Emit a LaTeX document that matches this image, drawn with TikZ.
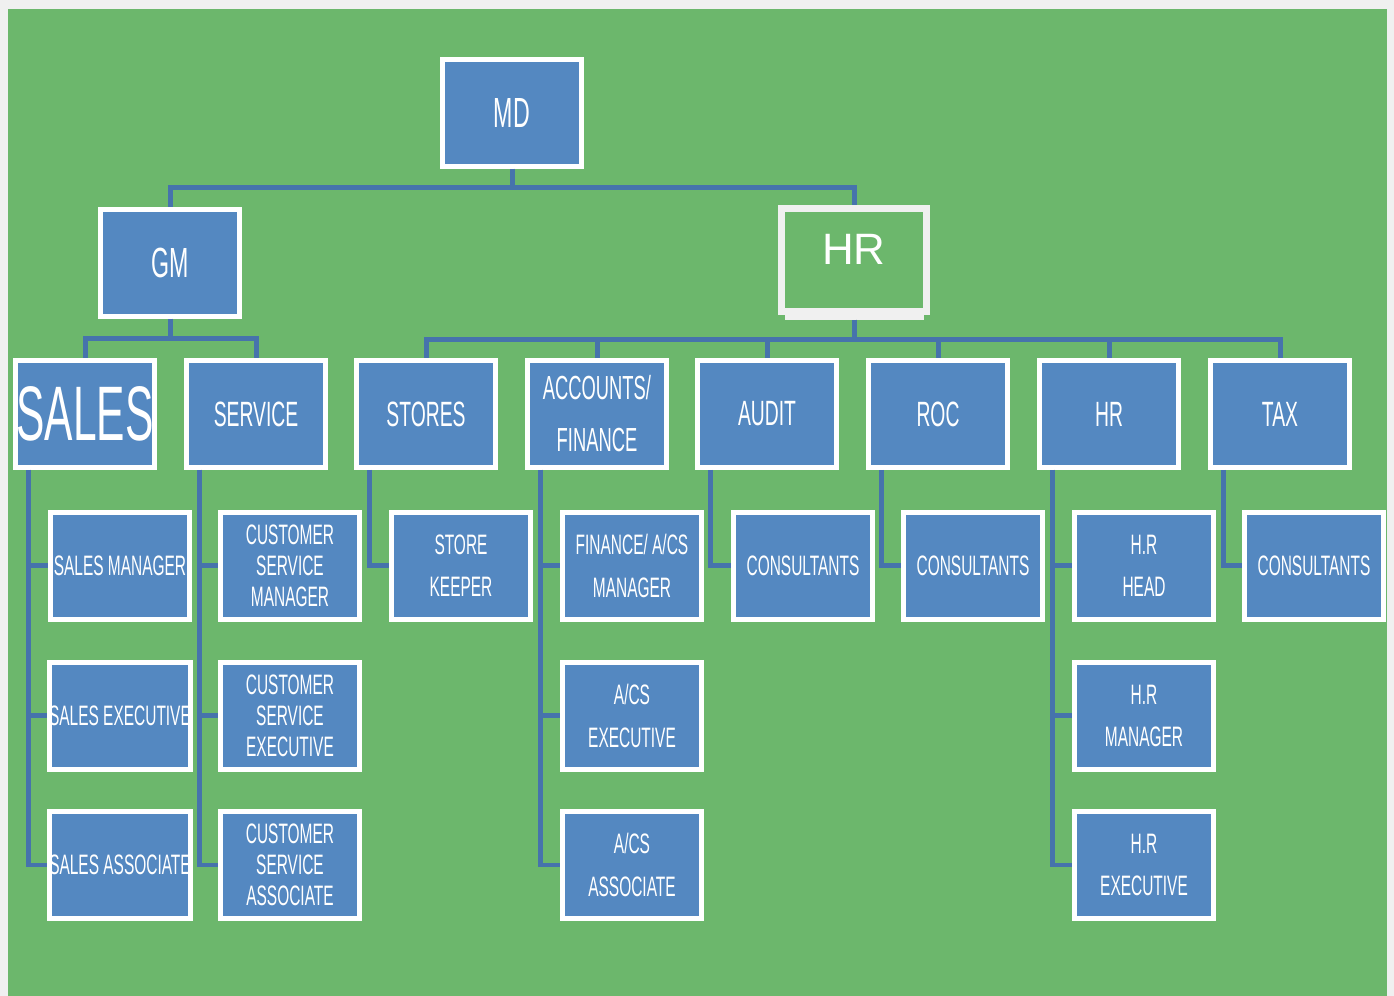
\documentclass[tikz,border=0pt]{standalone}
\usepackage{fontspec}
\newfontfamily\orgfont{Liberation Sans}[FakeStretch=0.55]
\newfontfamily\arialfont{Liberation Sans}
\definecolor{bggreen}{RGB}{108,183,108}
\definecolor{boxblue}{RGB}{84,136,193}
\definecolor{linkblue}{RGB}{70,115,172}
\definecolor{framegray}{RGB}{240,240,240}

\begin{document}
\begin{tikzpicture}[x=0.02cm, y=-0.02cm,
	post/.style={draw=white, line width=0.1cm, fill=boxblue, text=white,
		minimum width=2.8cm, minimum height=2.14cm, inner sep=0pt, align=center,
		font=\orgfont\fontsize{16}{17.6}\selectfont},
	twoline/.style={font=\orgfont\fontsize{16}{24}\selectfont},
	topframe/.style={draw=framegray, line width=0.14cm, fill=bggreen, text=white,
		minimum width=2.9cm, minimum height=2.06cm, inner sep=0pt,
		font=\arialfont\fontsize{25}{30}\selectfont},
	link/.style={draw=linkblue, line width=0.1cm}]

	\fill[framegray] (0,0) rectangle (1394,996);
	\fill[bggreen] (8,9) rectangle (1387,996);

	% top
	\node[post, font=\orgfont\fontsize{24}{28}\selectfont] (md) at (512,113) {MD};
	\node[post, font=\orgfont\fontsize{24}{28}\selectfont] (gm) at (170,263) {GM};
	\fill[framegray] (785,312) rectangle (924,320); % shadow under hr
	\node[topframe] (hr) at (854,260) {\raisebox{0.44cm}{HR}};

	% departments
	\node[post, font=\orgfont\fontsize{44}{48}\selectfont] (sales) at (85,414) {SALES};
	\node[post, font=\orgfont\fontsize{20}{24}\selectfont] (service) at (256,414) {SERVICE};
	\node[post, font=\orgfont\fontsize{20}{24}\selectfont] (stores) at (426,414) {STORES};
	\node[post, font=\orgfont\fontsize{19}{29.6}\selectfont] (accounts) at (597,414) {ACCOUNTS/\\FINANCE};
	\node[post, font=\orgfont\fontsize{20}{24}\selectfont] (audit) at (767,414) {AUDIT};
	\node[post, font=\orgfont\fontsize{20}{24}\selectfont] (roc) at (938,414) {ROC};
	\node[post, font=\orgfont\fontsize{20}{24}\selectfont] (hrdept) at (1109,414) {HR};
	\node[post, font=\orgfont\fontsize{20}{24}\selectfont] (tax) at (1280,414) {TAX};

	% staff
	\node[post] (smgr) at (120,566) {SALES MANAGER};
	\node[post] (sexec) at (120,716) {SALES EXECUTIVE};
	\node[post] (sassoc) at (120,865) {SALES ASSOCIATE};
	\node[post] (csmgr) at (290,566) {CUSTOMER\\SERVICE\\MANAGER};
	\node[post] (csexec) at (290,716) {CUSTOMER\\SERVICE\\EXECUTIVE};
	\node[post] (csassoc) at (290,865) {CUSTOMER\\SERVICE\\ASSOCIATE};
	\node[post, twoline] (keeper) at (461,566) {STORE\\KEEPER};
	\node[post, twoline] (finmgr) at (632,566) {FINANCE/ A/CS\\MANAGER};
	\node[post, twoline] (acexec) at (632,716) {A/CS\\EXECUTIVE};
	\node[post, twoline] (acassoc) at (632,865) {A/CS\\ASSOCIATE};
	\node[post] (audcons) at (803,566) {CONSULTANTS};
	\node[post] (roccons) at (973,566) {CONSULTANTS};
	\node[post, twoline] (hrhead) at (1144,566) {H.R\\HEAD};
	\node[post, twoline] (hrmgr) at (1144,716) {H.R\\MANAGER};
	\node[post, twoline] (hrexec) at (1144,865) {H.R\\EXECUTIVE};
	\node[post] (taxcons) at (1314,566) {CONSULTANTS};

	% links
	\draw[link] (md.south) -- ++(0,19) -| (gm.north);
	\draw[link] (md.south) -- ++(0,19) -| (hr.north);
	\draw[link] (gm.south) -- ++(0,20) -| (sales.north);
	\draw[link] (gm.south) -- ++(0,20) -| (service.north);
	\foreach \d in {stores,accounts,audit,roc,hrdept,tax}
		\draw[link] (hr.south) ++(0,5) -- ++(0,20) -| (\d.north);
	\foreach \p/\c in {sales/smgr, sales/sexec, sales/sassoc,
			service/csmgr, service/csexec, service/csassoc,
			stores/keeper, accounts/finmgr, accounts/acexec, accounts/acassoc,
			audit/audcons, roc/roccons, hrdept/hrhead, hrdept/hrmgr, hrdept/hrexec,
			tax/taxcons}
		\draw[link] ([xshift=0.32cm]\p.south west) |- (\c.west);
\end{tikzpicture}
\end{document}
